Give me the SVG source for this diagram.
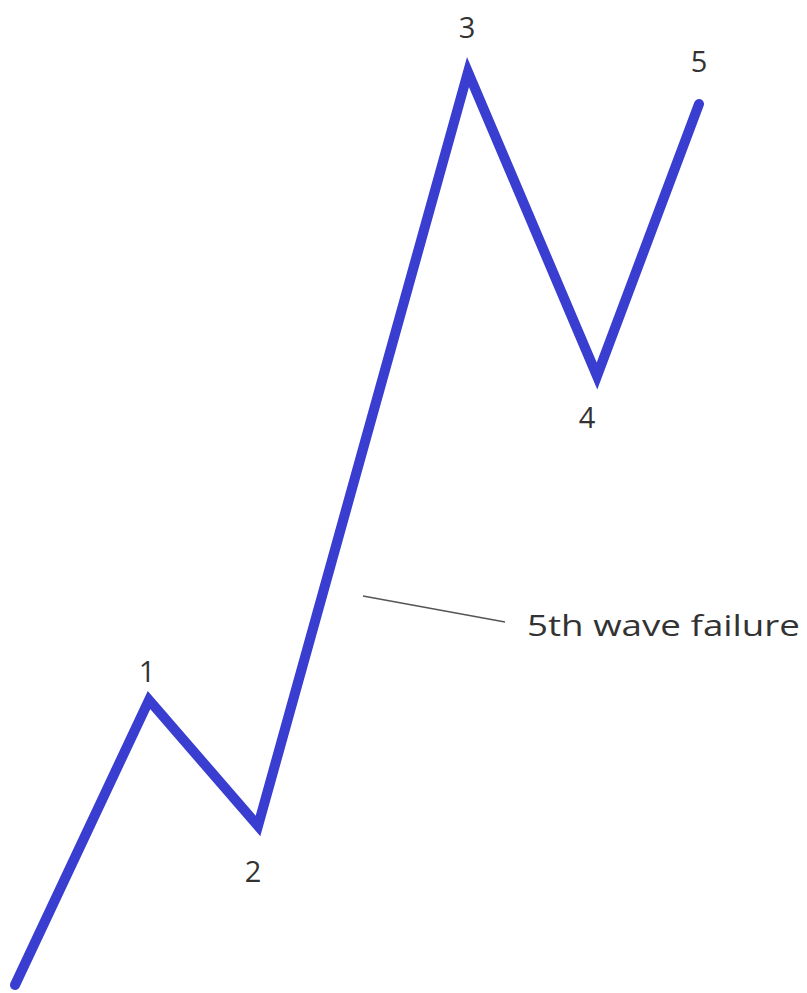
<svg xmlns="http://www.w3.org/2000/svg" width="807" height="993" viewBox="0 0 807 993">
<style>
.wave{fill:none;stroke:#3a3ed0;stroke-width:10;stroke-linejoin:miter;stroke-linecap:round}
.lbl{font-family:"Open Sans","Liberation Sans",sans-serif;font-size:29px;fill:#333;text-anchor:middle}
.note{font-family:"Open Sans","Liberation Sans",sans-serif;font-size:29px;fill:#333}
.leader{stroke:#555;stroke-width:1.5;fill:none}
</style>
<rect width="807" height="993" fill="#fff"/>
<g id="connectors">
<path class="wave" d="M15,985 L149,700 L258,826 L468,72 L597,376 L699,104"/>
<line class="leader" x1="363" y1="596" x2="505" y2="622"/>
</g>
<g id="n1"><text class="lbl" x="147" y="682">1</text></g>
<g id="n2"><text class="lbl" x="253" y="882">2</text></g>
<g id="n3"><text class="lbl" x="467" y="38">3</text></g>
<g id="n4"><text class="lbl" x="587" y="428">4</text></g>
<g id="n5"><text class="lbl" x="699" y="72">5</text></g>
<g id="note"><text class="note" x="527" y="636" textLength="273" lengthAdjust="spacingAndGlyphs">5th wave failure</text></g>
</svg>
